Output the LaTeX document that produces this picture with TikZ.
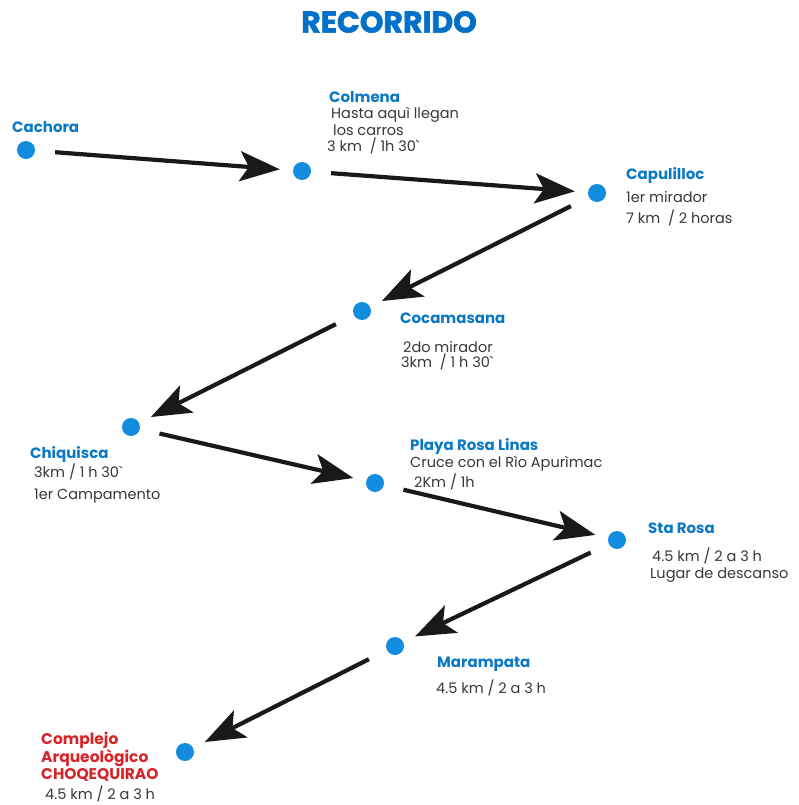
\documentclass[tikz,border=0pt]{standalone}
\usepackage{fontspec}
\setmainfont{Poppins}
\usetikzlibrary{arrows.meta}

\definecolor{dotblue}{RGB}{18,140,222}
\definecolor{nameblue}{RGB}{10,120,196}
\definecolor{titleblue}{RGB}{0,112,200}
\definecolor{destred}{RGB}{214,36,40}
\definecolor{notegray}{RGB}{55,55,55}

\tikzset{
  stop/.style={circle, fill=dotblue, minimum size=18pt, inner sep=0pt},
  place/.style={anchor=base west, inner sep=0pt, font=\fontsize{15}{17}\selectfont\bfseries, text=nameblue},
  note/.style={anchor=base west, inner sep=0pt, font=\fontsize{14.5}{17}\selectfont, text=notegray},
  route/.style={-{Stealth[length=40pt,width=30pt,inset=9pt]}, line width=4.2pt, black!90,
    shorten <=20pt, shorten >=13pt}
}

\begin{document}
\begin{tikzpicture}[x=1pt,y=-1pt]
    \useasboundingbox (0,0) rectangle (798,805);
    \node[font=\fontsize{30}{34}\selectfont\bfseries\addfontfeature{FakeBold=2}, text=titleblue] (title) at (389,22) {RECORRIDO};

    % paradas
    \node[stop] (cachora)  at (26,150)  {};
    \node[stop] (colmena)  at (302,171) {};
    \node[stop] (capuli)   at (597,193) {};
    \node[stop] (cocama)   at (362,311) {};
    \node[stop] (chiqui)   at (131,427) {};
    \node[stop] (playa)    at (375,483) {};
    \node[stop] (starosa)  at (617,540) {};
    \node[stop] (maram)    at (395,646) {};
    \node[stop] (choqe)    at (185,752) {};

    % textos
    \node[place] (cachoraT) at (12,133) {Cachora};

    \node[place] (colmenaT) at (329,103) {Colmena};
    \node[note]  (colmenaA) at (331,119) {Hasta aquì llegan};
    \node[note]  (colmenaB) at (333,136) {los carros};
    \node[note]  (colmenaC) at (327,152) {3 km~~/ 1h 30\textasciigrave};

    \node[place] (capuliT) at (626,179) {Capulilloc};
    \node[note]  (capuliA) at (626,202) {1er mirador};
    \node[note]  (capuliB) at (626,223) {7 km~~/ 2 horas};

    \node[place] (cocamaT) at (400,323) {Cocamasana};
    \node[note]  (cocamaA) at (403,352) {2do mirador};
    \node[note]  (cocamaB) at (401,367) {3km~~/ 1 h 30\textasciigrave};

    \node[place] (chiquiT) at (30,458) {Chiquisca};
    \node[note]  (chiquiA) at (34,477) {3km / 1 h 30\textasciigrave};
    \node[note]  (chiquiB) at (34,499) {1er Campamento};

    \node[place] (playaT) at (410,450) {Playa Rosa Linas};
    \node[note]  (playaA) at (410,467) {Cruce con el Rìo Apurìmac};
    \node[note]  (playaB) at (414,487) {2Km / 1h};

    \node[place] (starosaT) at (648,533) {Sta Rosa};
    \node[note]  (starosaA) at (652,561) {4.5 km / 2 a 3 h};
    \node[note]  (starosaB) at (650,578) {Lugar de descanso};

    \node[place] (maramT) at (437,667) {Marampata};
    \node[note]  (maramA) at (436,693) {4.5 km / 2 a 3 h};

    \node[place, text=destred, align=left, anchor=north west, font=\fontsize{15.5}{17.5}\selectfont\bfseries]
        (choqeT) at (41,732) {Complejo\\Arqueològico\\CHOQEQUIRAO};
    \node[note]  (choqeA) at (45,799) {4.5 km / 2 a 3 h};

    % recorrido
    \draw[route] (cachora) -- (colmena);
    \draw[route] (colmena) -- (capuli);
    \draw[route] (capuli)  -- (cocama);
    \draw[route] (cocama)  -- (chiqui);
    \draw[route] (chiqui)  -- (playa);
    \draw[route] (playa)   -- (starosa);
    \draw[route] (starosa) -- (maram);
    \draw[route] (maram)   -- (choqe);
\end{tikzpicture}
\end{document}
